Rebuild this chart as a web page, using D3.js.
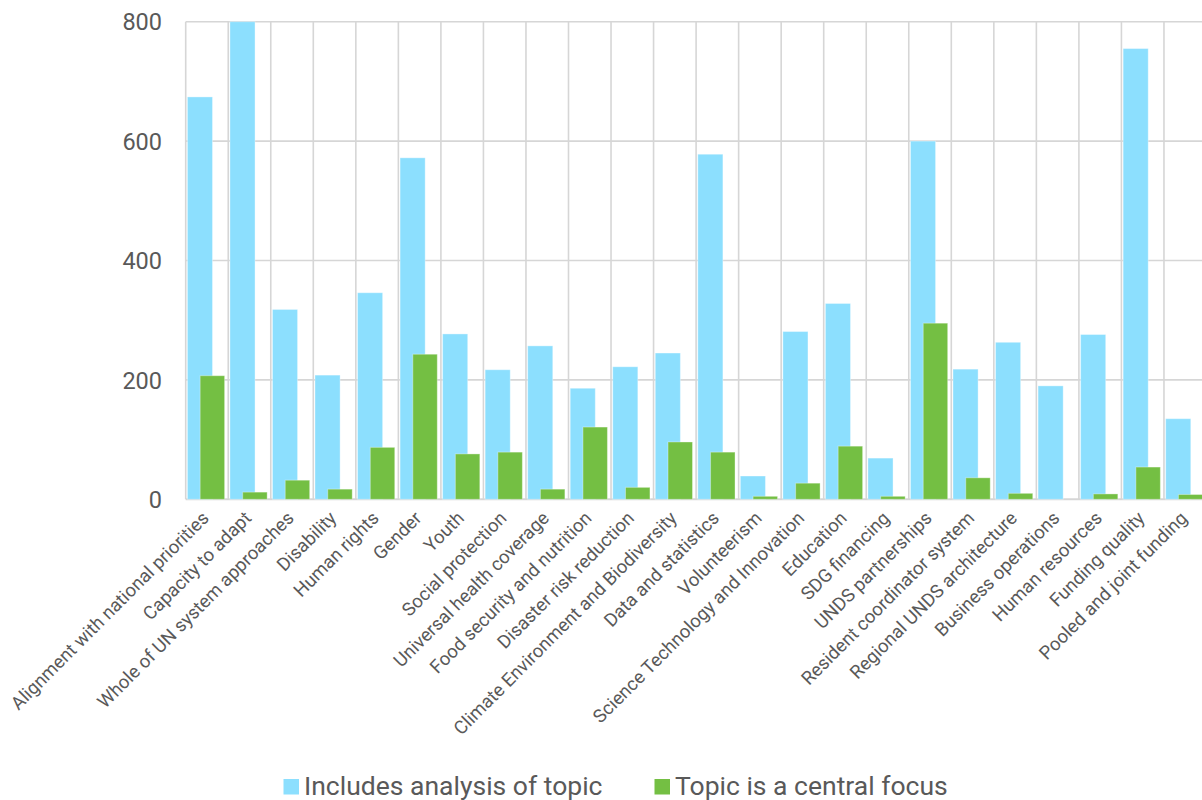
<!DOCTYPE html>
<html>
<head>
<meta charset="utf-8">
<script src="https://cdn.jsdelivr.net/npm/d3@7"></script>
<style>
  html, body { margin: 0; padding: 0; background: #ffffff; }
  svg { display: block; font-family: Roboto, "Noto Sans", Arial, sans-serif; }
</style>
</head>
<body>
<svg id="chart" width="1202" height="800"></svg>
<script>
// Topics covered by the reviewed documents
const categories = [
  "Alignment with national priorities", "Capacity to adapt", "Whole of UN system approaches",
  "Disability", "Human rights", "Gender", "Youth", "Social protection",
  "Universal health coverage", "Food security and nutrition", "Disaster risk reduction",
  "Climate Environment and Biodiversity", "Data and statistics", "Volunteerism",
  "Science Technology and Innovation", "Education", "SDG financing", "UNDS partnerships",
  "Resident coordinator system", "Regional UNDS architecture", "Business operations",
  "Human resources", "Funding quality", "Pooled and joint funding"
];

// Number of documents that include analysis of the topic
const includesAnalysis = [674, 800, 318, 208, 346, 572, 277, 217, 257, 186, 222, 245,
  578, 39, 281, 328, 69, 600, 218, 263, 190, 276, 755, 135];

// Number of documents where the topic is a central focus
const centralFocus = [207, 12, 32, 17, 87, 243, 76, 79, 17, 121, 20, 96,
  79, 5, 27, 89, 5, 295, 36, 10, 0, 9, 54, 8];

const yTicks = [0, 200, 400, 600, 800];

const seriesNames = ["Includes analysis of topic", "Topic is a central focus"];
const seriesColors = ["#8cdffe", "#74bf43"];

const svg = d3.select("#chart");

const plotLeft = 185.7, plotRight = 1206.5, plotTop = 21.7, plotBottom = 499.3;

const x = d3.scaleBand().domain(categories).range([plotLeft, plotRight]).padding(0);
const y = d3.scaleLinear().domain([0, 800]).range([plotBottom, plotTop]);
const bw = x.bandwidth();

const grid = svg.append("g");

// horizontal grid lines
grid.selectAll("line.h").data(yTicks).join("line")
  .attr("class", "h")
  .attr("x1", plotLeft).attr("x2", plotRight)
  .attr("y1", d => y(d)).attr("y2", d => y(d))
  .attr("stroke", "#d6d6d6").attr("stroke-width", d => d === 0 ? 2 : 1.6);

// vertical grid lines at category boundaries
grid.selectAll("line.v").data(categories).join("line")
  .attr("class", "v")
  .attr("x1", d => x(d)).attr("x2", d => x(d))
  .attr("y1", plotTop).attr("y2", plotBottom)
  .attr("stroke", "#d6d6d6").attr("stroke-width", 1.6);

// y-axis labels
const yAxis = d3.axisLeft(y).tickValues(yTicks).tickSize(0).tickPadding(0);
const yg = svg.append("g").attr("transform", `translate(162,0)`).call(yAxis);
yg.select(".domain").remove();
yg.selectAll("text")
  .attr("font-family", "Roboto, sans-serif")
  .attr("font-size", "23.5px")
  .attr("fill", "#595959")
  .attr("dy", "0.35em");

// bars: analysis first, central focus overlapping on top
const bars = svg.append("g");
bars.selectAll("rect.a").data(categories).join("rect")
  .attr("class", "a")
  .attr("x", d => x(d) + bw * 0.04)
  .attr("width", bw * 0.59)
  .attr("y", (d, i) => y(includesAnalysis[i]))
  .attr("height", (d, i) => y(0) - y(includesAnalysis[i]))
  .attr("fill", seriesColors[0])
  .attr("stroke", "rgba(255,255,255,0.35)").attr("stroke-width", 1);

bars.selectAll("rect.c").data(categories).join("rect")
  .attr("class", "c")
  .attr("x", d => x(d) + bw * 0.34)
  .attr("width", bw * 0.575)
  .attr("y", (d, i) => y(centralFocus[i]))
  .attr("height", (d, i) => y(0) - y(centralFocus[i]))
  .attr("fill", seriesColors[1])
  .attr("stroke", "rgba(255,255,255,0.35)").attr("stroke-width", 1);

// x-axis labels, rotated
const xAxis = d3.axisBottom(x).tickSize(0).tickPadding(0);
const xg = svg.append("g").attr("transform", `translate(0,${plotBottom})`).call(xAxis);
xg.select(".domain").remove();
xg.selectAll(".tick text")
  .attr("font-family", "Roboto, sans-serif")
  .attr("font-size", "18.5px")
  .attr("fill", "#595959")
  .attr("text-anchor", "end")
  .attr("dy", null)
  .attr("y", null)
  .attr("transform", "translate(3,20) rotate(-45)");

// legend
const legend = svg.append("g");
const legendItems = [
  { name: seriesNames[0], color: seriesColors[0], x: 283.5 },
  { name: seriesNames[1], color: seriesColors[1], x: 654.5 }
];
const li = legend.selectAll("g").data(legendItems).join("g")
  .attr("transform", d => `translate(${d.x},0)`);
li.append("rect")
  .attr("x", 0).attr("y", 779)
  .attr("width", 15.5).attr("height", 15.5)
  .attr("fill", d => d.color);
li.append("text")
  .attr("x", 20.5).attr("y", 794.5)
  .attr("font-family", "Roboto, sans-serif")
  .attr("font-size", "26.5px")
  .attr("fill", "#595959")
  .text(d => d.name);
</script>
</body>
</html>
